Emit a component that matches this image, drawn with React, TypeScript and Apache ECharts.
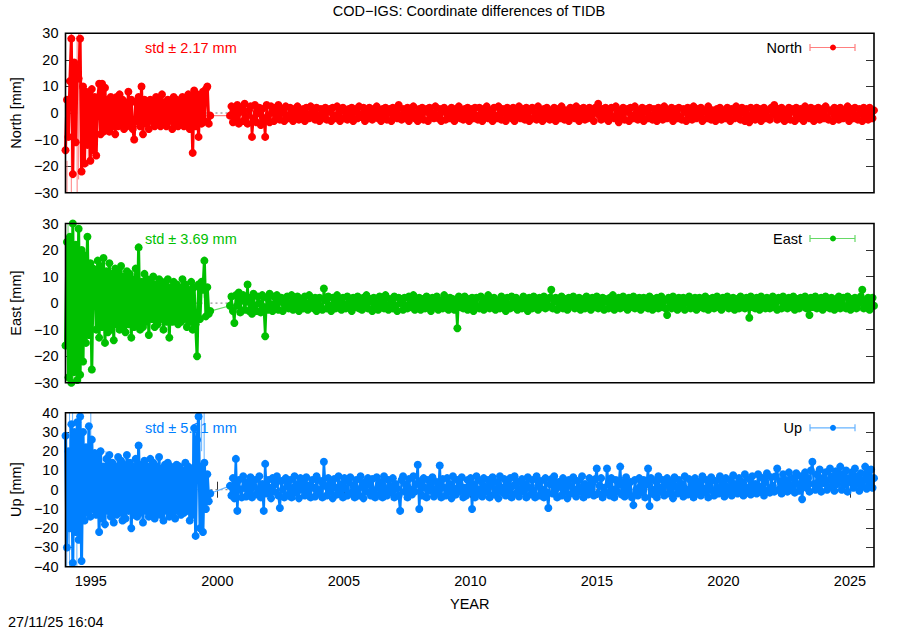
import React, { useEffect, useRef } from 'react';
import * as echarts from 'echarts';

// ---- sampling of the two observation segments (years) ----
const SEG1_START = 1994.0;
const SEG1_END = 1999.72;
const SEG2_START = 2000.5;
const SEG2_END = 2025.95;
const X_MIN = 1994.0;
const X_MAX = 2025.95;

const xTicks = [1995, 2000, 2005, 2010, 2015, 2020, 2025];
const titleText = 'COD\u2212IGS: Coordinate differences of TIDB';
const stampText = '27/11/25 16:04';
const xName = 'YEAR';

const componentNames = ['North', 'East', 'Up'];
const stdValues = ['2.17', '3.69', '5.21'];
const yRanges = [[-30, 30], [-30, 30], [-40, 40]];

// ---- North [mm] ----
const northSeg1 = [
  -14, 5, -9, 12, 28, -23, 19, -11, 17, 13,
  28, -22, 10, -19, 8, -12, 7, -18, 9, -14,
  6, -16, 5, 11, -8, 11, -7, 9.5, -6, 5,
  -7, 6, -5, 4, -8, 6, -5, 7, -4, 5,
  -6, 4, -5, 8, -4, 5, -6, -10, 4, -3,
  6, -5, 10, -8, 5, -4, 4, -6, 5, -3,
  4, -5, 6, -4, 5, -5, 7, -4, 4, -5,
  5, -3, 4, -6, 6, -4, 5, -5, 4, -3,
  6, -5, 5, -4, 7, -6, 6, -15, 8.5, -5,
  7, -9, 6, -4, 8, -3, 9, 10, -4, -1,
];
const northSeg2 = [
  -1, 2.5, -3.5, 1, -2, 3, -4, 0.5, 2, -3,
  3.5, -1.5, -4, 1, 2.5, -9, -2, 3, -3.5, 0,
  2, -4.5, 1.5, -2, -9, 3, -1, -3.5, 2.5, 0.5,
  -3, 2, -1.5, 3, -2.5, 0, 1.5, -3, 2.5, -1,
  -2, 2, 0, -3, 1.5, -1, 2.5, -2.5, 0.5, -2,
  1.5, -3, 2, -0.5, -2, 2.5, -1.5, 1, -2.5, 2,
  -1, -3, 1.5, 0, -2, 2, -2.5, 0.5, 1.5, -3,
  2, -1, -2, 2.5, -0.5, -3, 1, 2, -2, 0,
  -2.5, 1.5, -1, 2, -3, 0.5, 1.5, -2, 2.5, -1.5,
  -0.5, 2, -3, 1, -2, 2, 0, -2.5, 1.5, -1,
  2.5, -2, 0.5, -3, 1.5, -1, 2, -2.5, 0, 1.5,
  -3, 2, -1.5, 0.5, -2, 3, -1, -2.5, 1.5, 0,
  -2, 2, -3, 1, -0.5, 2.5, -2, 0, -3, 1.5,
  -1, 2, -2.5, 0.5, 1.5, -3, 2, -1.5, 0, -2,
  2.5, -1, -2, 1.5, -3, 0.5, 2, -2.5, 1, -1,
  -2, 2, 0, -3, 1.5, -1.5, 2.5, -2, 0.5, -2.5,
  1.5, -1, 2, -3, 0, 1.5, -2, 2, -1, -2.5,
  2, -0.5, -3, 1.5, -1.5, 2.5, -2, 0, 1, -3,
  2, -1, -2, 2.5, -0.5, -2.5, 1.5, 0, -3, 2,
  -1.5, 0.5, -2, 2, -3, 1, -1, 2.5, -2, 0,
  1.5, -2.5, 2, -1, -3, 1, 2, -2, 0, -2.5,
  2.5, -1, 0.5, -3, 1.5, -2, 2, -0.5, -2.5, 1,
  -1.5, 2, -3, 0, 1.5, -2, 2.5, -1, -2.5, 1,
  0, -3, 2, -1.5, 1, -2, 2.5, -0.5, -3, 1.5,
  -1, 2, -2.5, 0.5, -2, 2, -1.5, 1, -3, 2,
  0, 3.5, -1, -2.5, 1.5, -2, 2, -0.5, -3, 1,
  2, -1.5, -2, 2.5, 0, -3.5, 1, -1, 2, -2.5,
  0.5, 1.5, -3, 2, -1, -2, 2.5, 0, -2.5, 1,
  -1.5, 2, -3, 0.5, 1.5, -2, 2, -1, -2.5, 1.5,
  0, -3, 2, -1.5, 1, -2.5, 2.5, -0.5, -2, 1,
  -1, 2, -3, 0, 1.5, -2, 2, -1.5, -2.5, 1.5,
  0.5, -3, 2, -1, 1, -2.5, 2.5, 0, -2, 1.5,
  -1.5, 2, -3, 0.5, 1, -2, 2.5, -1, -2.5, 1,
  0, -3, 1.5, -1.5, 2, -2.5, 1, 0, -2, 2,
  -1, -3, 1.5, 0.5, -2, 2.5, -1.5, 1, -2.5, 2,
  0, -3, 1.5, -1, -3.5, 2, -1.5, 0.5, -2.5, 2,
  -1, 1.5, -3, 0, 2, -2, 1, -1.5, -2.5, 2,
  0.5, 3, -1, -2.5, 1.5, -2, 2, 0, -3, 1,
  -1.5, 2, -2.5, 0.5, 1.5, -3, 2, -1, -2, 1.5,
  0, -3, 2.5, -1.5, 1, -2, 2, -0.5, -3, 1.5,
  -1, 2, -2.5, 0, 1.5, -2, 2.5, -1.5, -2.5, 1,
  0.5, -3, 2, -1, 1.5, -2.5, 2, 0, -2, 1,
  -1.5, 2.5, -3, 0.5, 1.5, -2, 2, -1, -2.5, 1.5,
  0, -3, 2, -1.5, 1, -2.5, 2, -0.5, -2, 1,
];
// [year, lower, upper]
const northErrBars = [
  [1994.06, -30, -18], [1994.23, -34, 30], [1994.46, -34, 29], [1994.52, -25, 30],
  [1994.9, -20, 4], [1999.02, -15, -3],
];

// ---- East [mm] ----
const eastSeg1 = [
  -16, 23, -28, 25, -30, 30, -26, 22, -29, 28,
  -27, 20, -22, 18, -15, 25, -12, 15, -25, 13,
  12, -10, 16, -13, 14, -9, 17, -15, 12, -11,
  15, -10, 11, -14, 13, -8, 12, -10, 14, -9,
  10, -11, 12, -8, 11, -13, 9, -9, 13, -8,
  21, -10, 8, -9, 11, -7, 9, -12, 8, -6,
  10, -9, 7, -8, 9, -6, 8, -10, 7, -7,
  9, -13, 6, -7, 8, -6, 7, -8, 6, -7,
  9, -6, 7, -9, 5, -7, 8, -10, 6, -8,
  -20, 7, -6, 8, 5, 16, -5, 6, -4, -3,
];
const eastSeg2 = [
  -1, 2.5, -3, -7.5, 3, -1, 4, -3.5, 1, 3,
  -2.5, 0.5, 7, -3, 2, -4, 3.5, -1, -3, 2.5,
  0, -3.5, 3, -1.5, -12.5, 2, -2.5, 3.5, -0.5, -3,
  2.5, -1, 3, -2.5, 0.5, 2, -3, 1.5, -1.5, 2.5,
  -2, 0, 3, -2.5, 1, -1, 2.5, -3, 1.5, -0.5,
  -2, 2.5, 0, -2.5, 3, -1, 1.5, -2, 2, -3,
  0.5, 2, -1.5, -2.5, 5.5, 1, -2, 2.5, -1, -3,
  2, 0, -2, 3, -1.5, 1, -2.5, 2, -0.5, -2,
  2.5, -1, 1, -3, 2, -1.5, 0.5, 2.5, -2, 0,
  -2.5, 2, -1, 3, -2, 0.5, 1.5, -3, 2, -1,
  0, -2.5, 2.5, -1.5, 1, -2, 3, -1, -2.5, 1.5,
  0.5, -2, 2.5, -1, -3, 2, 0, 1.5, -2.5, 2,
  -1, -2, 2.5, 0.5, -1.5, 3, -2.5, 1, -0.5, 2,
  -2.5, 1.5, 0, -2, 2.5, -1, 1, -3, 2, 0,
  -1.5, 2.5, -2.5, 1, 0, -2, 3, -1.5, 0.5, -2.5,
  2, -1, 1.5, -2.5, 0, -9.5, 2.5, -1.5, 1, -2,
  2.5, 0, -2.5, 1.5, -1, 2, -3, 0.5, 2, -1.5,
  -2, 2.5, 0, -2.5, 1.5, -1, 3, -2, 0.5, -1,
  2, -2.5, 1, 0, -2, 2.5, -1.5, 1.5, -3, 2,
  -0.5, -2, 2.5, 0.5, -1.5, 2, -2.5, 1, 0, -2,
  2.5, -1, 1.5, -3, 2, 0, -2, 2.5, -1, 1,
  -2.5, 2, 0, -1.5, 2.5, -2, 1, -1, 2, 5,
  -2, 0.5, 2, -2.5, 1, -1, 2.5, -2, 0, 1.5,
  -2.5, 2, -1, 0.5, 2.5, -2, 1, -1.5, 2, -2.5,
  0, 1.5, -2, 2.5, -1, 0.5, -2.5, 2, -1.5, 1,
  2.5, -2, 0, -1, 2, -2.5, 1.5, 0.5, -2, 2,
  -1, 3, -2.5, 1, -0.5, 2, -2, 0, 2.5, -1.5,
  1, -2.5, 2, 0, -1.5, 2.5, -2, 1, -1, 2,
  -2.5, 0.5, 2, -1.5, 1, -2, 2.5, 0, -2.5, 1.5,
  -1, 2, -2, 0.5, 2.5, -1.5, 1, -2, -4.5, 2,
  0, -2, 2.5, -1, 1.5, -2.5, 2, 0.5, -1.5, 2,
  -2.5, 1, 0, 2.5, -2, 1.5, -1, 2, -2.5, 0.5,
  2, -1.5, 1, -2, 2.5, 0, -2.5, 1.5, -1, 2,
  -2, 0.5, 2.5, -1.5, 1, -2.5, 2, 0, -1, 2.5,
  -2, 1, -0.5, 2, -2.5, 1.5, 0, -2, 2.5, -1,
  1, -2, 2, 0.5, -5.5, 2.5, -1.5, 1, -2, 2,
  0, -2.5, 2.5, -1, 1.5, -2, 2, -0.5, -2, 1.5,
  2.5, -1.5, 0, -2.5, 2, 1, -2, 2.5, -1, 0.5,
  -2, 2, -1.5, 1, 2.5, -2.5, 0, 1.5, -2, 2,
  -1, 0.5, 2.5, -2, 1, -4.5, 2, -1.5, 0, 2.5,
  -2, 1, -1, 2, -2.5, 0.5, 2.5, -1.5, 1, -2,
  2, 0, -2.5, 1.5, -1, 2.5, -2, 0.5, 2, -1.5,
  -2, 2.5, 0, -2.5, 1.5, -1, 2, -2, 1, 0,
  2.5, 5, -2, 1, -1.5, 2, -2.5, 0.5, 2, -1,
];
const eastErrBars = [
  [1994.1, -34, 34], [1994.3, -34, 34], [1994.45, -34, 20], [1994.6, -30, 10],
  [1999.2, -20, -6], [1999.48, 2, 16],
];

// ---- Up [mm] ----
const upSeg1 = [
  28, -30, 20, -20, 34, -38, 30, -22, 35, -26,
  38, -37, 30, -16, 22, -12, 33, -14, 26, -10,
  19, -13, 17, -22, 20, -15, 12, -18, 16, -11,
  18, -14, 14, -17, 12, -13, 17, -12, 15, -16,
  13, -15, 18, -11, 14, -20, 12, -13, 16, -14,
  23, -12, 13, -17, 15, -11, 12, -14, 16, -13,
  14, -15, 12, -12, 17, -13, 11, -16, 13, -11,
  14, -14, 12, -12, 11, -15, 13, -11, 12, -13,
  10, -12, 14, -11, 12, -16, 11, -13, 32, -24,
  26, 38, -20, 12, -22, 14, -10, 8, -6, -2,
];
const upSeg2 = [
  2, -3, 6, -4.5, 16, -11, 5, 0, -4, 7,
  1, -3.5, 4, -1, 6.5, -4, 2, 5, -2.5, 0,
  7, -4, 3, -11, 13.4, -2, 5, 1, -4.5, 6,
  -1, 3, 7, -3, -9.5, 4.5, 0, -4, 6, 2,
  -2.5, 5, -4, 1, 7, -1.5, 3, -4.5, 6, 0,
  4, -3, 6.5, -1, 2, -4, 5, 1, -3.5, 7,
  0, -2, 4.5, -4, 14.5, 2, -3, 6, -1, 3.5,
  -4.5, 5.5, 1, -2.5, 7, -1, 3, -4, 6, 0.5,
  -3, 4, 6.5, -1.5, 2, -4, 5, 0, -3, 7,
  1.5, -4.5, 4, -1, 6, 2.5, -3, 5.5, -0.5, -4,
  6.5, 1, -2.5, 4, -4, 7, 0, -3, 5, 2,
  -1.5, 6, -4, 3, 0.5, -3, -11, 5, 7, -1,
  2.5, -4, 5.5, 0, -2.5, 7, -1, 3, 13, -10,
  4.5, -3, 6, 1, -4, 5, -0.5, 2, 6.5, -3.5,
  0, 4, -2, 12.6, -4, 5.5, 1, -3, 6, -1,
  3, -4.5, 7, 0.5, -2.5, 5, -1, 2, 6.5, -4,
  1, -3, 5, -1.5, 6, -10, 3, -4, 7, 0,
  -2, 4.5, -3.5, 6, 1.5, -1, 5, -4, 2.5, 6.5,
  -2.5, 0, 4, -4.5, 7, 1, -1.5, 5.5, -3, 3,
  -0.5, 6, -4, 2, 7, -2, 4, -3.5, 0.5, 5.5,
  -1, 3, -4, 6.5, 1, -2.5, 5, -0.5, -4, 7,
  2, -3, 4.5, 0, -4, 6, -1.5, -9.5, 3, 5.5,
  -2, 7, 0.5, -4, 4, 1.5, -3, 6, -1, 3,
  -4.5, 5, 2, -2, 6.5, 0, -3.5, 4.5, 1, -1,
  7, -4, 3, 0.5, -2.5, 6, -1, 4, -3, 5.5,
  11, -2, 2, 6, -4, 1, -1.5, 11, 3, -3,
  6, 0, -4, 5, -1, 2.5, 12, -2.5, 4, -3.5,
  6.5, 1, -2, 4, -4, -8, 5, 0, -3, 6,
  2, -1.5, 5, -4, 3, 11, -8.5, 6, 0, -2.5,
  4.5, -4, 7, 1, -1, 5, -3, 2.5, 6, -2,
  0.5, 4, -4.5, 6.5, 1.5, -2, 5, -1, 3, -3.5,
  7, 0, -2.5, 5.5, -1, 3, -4, 6, 1, -2,
  4, -3, 7, 0.5, -1.5, 5, -4, 2, 6.5, -0.5,
  -3, 4.5, 1, -2, 7, -1, 3.5, -3.5, 6, 1.5,
  -1, 5, -3, 7.5, 0, 3, -2, 6, -0.5, 4,
  -3, 8, 1, -1.5, 5.5, -2.5, 7, 0, 3, -2,
  8, 1.5, -1, 6, -3, 4, 8.5, 0, -1.5, 6.5,
  2, -1, 7, 11, 0, 4.5, -2, 8, 1, 5,
  -1, 9, 2.5, 0, 6, -1.5, 8.5, 3, -0.5, 7,
  -5, 4, 9, 1, 6, -1, 10, 14.5, 3, 0,
  8, 2, 10.5, -1, 6, 3.5, 9, 0, 5, 11,
  1.5, 7, -0.5, 9.5, 3, 6, 12, 0, 8, 2.5,
  10, -1, 6, 4, 9, 1, 11, 3, 7, -0.5,
  8.5, 2, 5, 12, 0.5, 9, 3, 10.5, 1, 6,
];
const upErrBars = [
  [1994.05, -45, 30], [1994.16, -45, 45], [1994.28, -20, 45], [1994.45, -45, 10],
  [1995.0, 10, 45], [1995.4, 5, 22], [1995.6, 4, 20],
  [1999.02, 10, 32], [1999.38, 20, 45], [1999.48, -10, 45],
];

// ---- styling / layout (not data) ----
const FONT = 'Liberation Sans, Arial, Helvetica, sans-serif';
const colors = ['#ff0000', '#00c000', '#0080ff'];
const lightColors = ['#ff7f7f', '#66d966', '#66b3ff'];
const gridTops = [33.3, 223.5, 412.7];
const gridHeights = [159.4, 159.2, 154];
const GRID_LEFT = 64;
const GRID_RIGHT = 26;
const labelY = [48, 239, 428.3];
const segLineWidths = [3, 2.4];
const SYMBOL_SIZE = 8;

function segPoints(seg: number[], start: number, end: number) {
  const step = (end - start) / (seg.length - 1);
  return seg.map((v, i) => [start + i * step, v]);
}

const minus = (v: number) => String(v).replace('-', '\u2212');

export default function App() {
  const ref = useRef<HTMLDivElement>(null);
  useEffect(() => {
    if (!ref.current) return;
    const chart = echarts.init(ref.current, undefined, { renderer: 'svg' });
    const segs = [
      [northSeg1, northSeg2, northErrBars],
      [eastSeg1, eastSeg2, eastErrBars],
      [upSeg1, upSeg2, upErrBars],
    ] as any[];

    const grid: any[] = [];
    const xAxis: any[] = [];
    const yAxis: any[] = [];
    const series: any[] = [];
    const graphic: any[] = [];

    for (let p = 0; p < 3; p++) {
      grid.push({
        left: GRID_LEFT, right: GRID_RIGHT, top: gridTops[p], height: gridHeights[p],
        show: true, borderColor: '#000', borderWidth: 1.6, backgroundColor: 'transparent', z: 10,
      });
      const isBottom = p === 2;
      xAxis.push({
        type: 'value', gridIndex: p, min: X_MIN, max: X_MAX, position: 'bottom',
        name: isBottom ? xName : '', nameLocation: 'middle', nameGap: 30,
        nameTextStyle: { fontFamily: FONT, fontSize: 14.5, color: '#000' },
        axisLine: { show: false },
        splitLine: { show: false },
        axisTick: { show: isBottom, inside: true, length: 8, customValues: xTicks, lineStyle: { color: '#333', width: 1 } },
        axisLabel: { show: isBottom, customValues: xTicks, margin: 7, fontFamily: FONT, fontSize: 14.5, color: '#000', formatter: (v: number) => String(v) },
      });
      xAxis.push({
        type: 'value', gridIndex: p, min: X_MIN, max: X_MAX, position: 'top',
        axisLine: { show: false }, splitLine: { show: false },
        axisTick: { show: isBottom, inside: true, length: 8, customValues: xTicks, lineStyle: { color: '#333', width: 1 } },
        axisLabel: { show: false },
      });
      const [ymin, ymax] = yRanges[p];
      yAxis.push({
        type: 'value', gridIndex: p, min: ymin, max: ymax, interval: 10, position: 'left',
        name: componentNames[p] + ' [mm]', nameLocation: 'middle', nameGap: 42,
        nameTextStyle: { fontFamily: FONT, fontSize: 14.5, color: '#000' },
        axisLine: { show: false }, splitLine: { show: false },
        axisTick: { show: true, inside: true, length: 8, lineStyle: { color: '#333', width: 1 } },
        axisLabel: { margin: 7, fontFamily: FONT, fontSize: 14.5, color: '#000', formatter: minus },
      });
      yAxis.push({
        type: 'value', gridIndex: p, min: ymin, max: ymax, interval: 10, position: 'right',
        axisLine: { show: false }, splitLine: { show: false },
        axisTick: { show: true, inside: true, length: 8, lineStyle: { color: '#333', width: 1 } },
        axisLabel: { show: false },
      });

      const light = lightColors[p];
      const s1 = segPoints(segs[p][0], SEG1_START, SEG1_END);
      const s2 = segPoints(segs[p][1], SEG2_START, SEG2_END);

      // zero reference line
      series.push({
        type: 'line', xAxisIndex: 2 * p, yAxisIndex: 2 * p, silent: true, symbol: 'none', z: 1,
        data: [[X_MIN, 0], [X_MAX, 0]],
        lineStyle: { color: '#777', width: 1, type: [2, 3] },
      });
      // error bars
      series.push({
        type: 'custom', xAxisIndex: 2 * p, yAxisIndex: 2 * p, silent: true, z: 2, clip: true,
        data: segs[p][2], encode: { x: 0, y: [1, 2] },
        renderItem: (params: any, api: any) => {
          const a = api.coord([api.value(0), api.value(1)]);
          const b = api.coord([api.value(0), api.value(2)]);
          return {
            type: 'line',
            shape: { x1: a[0], y1: a[1], x2: b[0], y2: b[1] },
            style: { stroke: light, lineWidth: 1 },
          };
        },
      });
      // thin connector across the data gap
      series.push({
        type: 'line', xAxisIndex: 2 * p, yAxisIndex: 2 * p, silent: true, z: 2, symbol: 'none',
        data: [s1[s1.length - 1], s2[0]],
        lineStyle: { color: light, width: 1.2 },
      });
      // the coordinate series (two observation segments)
      [s1, s2].forEach((s, k) => {
        series.push({
          type: 'line', xAxisIndex: 2 * p, yAxisIndex: 2 * p, silent: true, z: 3, clip: true,
          data: s,
          symbol: 'circle', symbolSize: SYMBOL_SIZE, showAllSymbol: true,
          itemStyle: { color: colors[p] },
          lineStyle: { color: colors[p], width: segLineWidths[k], join: 'round' },
        });
      });

      // std label
      graphic.push({
        type: 'text', left: 145, top: labelY[p] - 8, z: 20,
        style: { text: 'std \u00b1 ' + stdValues[p] + ' mm', fill: colors[p], font: `14.5px ${FONT}` },
      });
      // key
      const ly = labelY[p] - 0.5;
      graphic.push({
        type: 'text', x: 802, y: ly, z: 20,
        style: { text: componentNames[p], fill: '#000', font: `14.5px ${FONT}`, textAlign: 'right', textVerticalAlign: 'middle' },
      });
      graphic.push({ type: 'line', z: 20, shape: { x1: 810, y1: ly, x2: 855, y2: ly }, style: { stroke: light, lineWidth: 1.2 } });
      graphic.push({ type: 'line', z: 20, shape: { x1: 810, y1: ly - 3.5, x2: 810, y2: ly + 3.5 }, style: { stroke: light, lineWidth: 1.2 } });
      graphic.push({ type: 'line', z: 20, shape: { x1: 855, y1: ly - 3.5, x2: 855, y2: ly + 3.5 }, style: { stroke: light, lineWidth: 1.2 } });
      graphic.push({ type: 'circle', z: 21, shape: { cx: 833, cy: ly, r: 3 }, style: { fill: colors[p] } });
    }

    graphic.push({
      type: 'text', x: 469, y: 11, z: 20,
      style: { text: titleText, fill: '#000', font: `14.5px ${FONT}`, textAlign: 'center', textVerticalAlign: 'middle' },
    });
    graphic.push({
      type: 'text', x: 8, y: 622, z: 20,
      style: { text: stampText, fill: '#000', font: `14.5px ${FONT}`, textAlign: 'left', textVerticalAlign: 'middle' },
    });

    chart.setOption({
      animation: false,
      backgroundColor: '#fff',
      grid, xAxis, yAxis, series, graphic,
    });
    return () => chart.dispose();
  }, []);
  return <div ref={ref} style={{ position: 'fixed', left: 0, top: 0, width: 900, height: 630 }} />;
}
